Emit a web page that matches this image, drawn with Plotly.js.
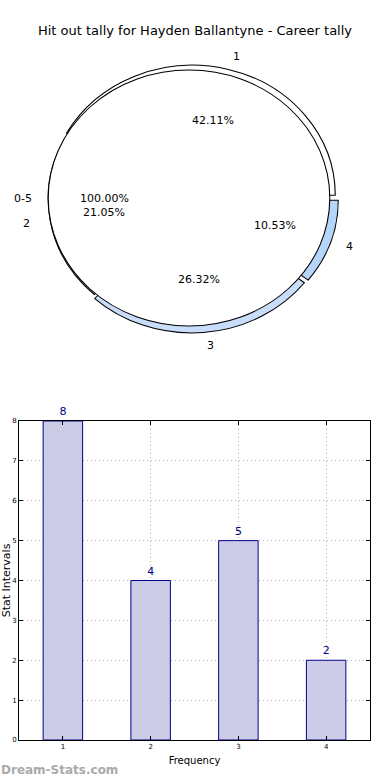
<!DOCTYPE html>
<html>
<head>
<meta charset="utf-8">
<script src="https://cdn.plot.ly/plotly-3.0.1.min.js"></script>
<style>html,body{margin:0;padding:0;background:#fff;}#chart{width:390px;height:780px;}</style>
</head>
<body>
<div id="chart"></div>
<script>
// ---- data ----
var titleText = "Hit out tally for Hayden Ballantyne - Career tally";
var categories = [1, 2, 3, 4];
var tallies = [8, 4, 5, 2];
var pieLabels = ["1", "2", "3", "4"];
var pieColors = ["#ffffff", "#9a9a9a", "#c8ddf9", "#b6d5fb"];
var totalLabel = ["0-5"];
var totalValue = [19];
var yTicks = [0, 1, 2, 3, 4, 5, 6, 7, 8];
var xTitle = "Frequency";
var yTitle = "Stat Intervals";
var watermark = "Dream-Stats.com";

var W = 390, H = 780;
var FONT = "DejaVu Sans, sans-serif";
function px(x){ return x / W; }
function py(y){ return 1 - y / H; }

// pie geometry (pre-stretch), stretched horizontally to an ellipse afterwards
var SX = 1.10, CX = 189;
var whiteR = 128, whiteC = [189, 198];
var sliceR = 130, sliceC = [191, 199], pullAmt = 0.03;
var sliceHalf = sliceR * (1 + pullAmt);

var total = tallies.reduce(function(a, b){ return a + b; }, 0);
// Plotly's counterclockwise pies put the end of slice 1 at `rotation`;
// make slice 1 start at 3 o'clock like the original.
var pieRotation = 90 - 360 * tallies[0] / total;

var data = [
  {
    type: 'pie', labels: pieLabels, values: tallies, sort: false,
    direction: 'counterclockwise', rotation: pieRotation,
    pull: [pullAmt, 0, pullAmt, pullAmt],
    marker: {colors: pieColors, line: {color: '#000', width: 1}},
    textinfo: 'none', hoverinfo: 'skip', showlegend: false,
    domain: {x: [px(sliceC[0] - sliceHalf), px(sliceC[0] + sliceHalf)],
             y: [py(sliceC[1] + sliceHalf), py(sliceC[1] - sliceHalf)]}
  },
  {
    type: 'pie', labels: totalLabel, values: totalValue, sort: false,
    marker: {colors: ['#ffffff'], line: {color: '#000', width: 1}},
    textinfo: 'none', hoverinfo: 'skip', showlegend: false,
    domain: {x: [px(whiteC[0] - whiteR), px(whiteC[0] + whiteR)],
             y: [py(whiteC[1] + whiteR), py(whiteC[1] - whiteR)]}
  },
  {
    type: 'bar', x: categories, y: tallies, width: 0.45,
    marker: {color: '#ccccE6', line: {color: '#00008b', width: 1}},
    text: tallies.map(String), textposition: 'outside', cliponaxis: false,
    textfont: {family: FONT, size: 11, color: '#00008b'},
    xaxis: 'x', yaxis: 'y', showlegend: false, hoverinfo: 'skip'
  }
];

// annotations for pie labels, positioned from slice angles
var annotations = [];
var cum = 0;
var scx = CX + SX * (sliceC[0] - CX), scy = sliceC[1];
var rx = sliceR * SX, ry = sliceR;
for (var i = 0; i < tallies.length; i++) {
  var frac = tallies[i] / total;
  var mid = (cum + frac / 2) * 2 * Math.PI;
  cum += frac;
  var c = Math.cos(mid), s = Math.sin(mid);
  var pct = (frac * 100).toFixed(2) + '%';
  annotations.push({xref: 'paper', yref: 'paper', showarrow: false,
    x: px(scx + 0.62 * rx * c), y: py(scy - 0.62 * ry * s),
    text: pct, font: {family: FONT, size: 11, color: '#000'},
    xanchor: 'center', yanchor: 'middle'});
  annotations.push({xref: 'paper', yref: 'paper', showarrow: false,
    x: px(scx + 1.13 * rx * c), y: py(scy - 1.13 * ry * s),
    text: pieLabels[i], font: {family: FONT, size: 11, color: '#000'},
    xanchor: c >= 0 ? 'left' : 'right', yanchor: 'middle'});
}
var wrx = whiteR * SX;
annotations.push({xref: 'paper', yref: 'paper', showarrow: false,
  x: px(whiteC[0] - 0.6 * wrx), y: py(whiteC[1]),
  text: (100).toFixed(2) + '%', font: {family: FONT, size: 11, color: '#000'},
  xanchor: 'center', yanchor: 'middle'});
annotations.push({xref: 'paper', yref: 'paper', showarrow: false,
  x: px(whiteC[0] - 1.1 * wrx), y: py(whiteC[1]),
  text: totalLabel[0], font: {family: FONT, size: 11, color: '#000'},
  xanchor: 'right', yanchor: 'middle'});
annotations.push({xref: 'paper', yref: 'paper', showarrow: false,
  x: px(-1), y: py(770), text: watermark, xanchor: 'left', yanchor: 'middle',
  font: {family: FONT, size: 12, color: '#aaaaaa', weight: 'bold'}});

var layout = {
  width: W, height: H,
  margin: {l: 0, r: 0, t: 0, b: 0},
  paper_bgcolor: '#fff', plot_bgcolor: '#fff',
  font: {family: FONT, color: '#000'},
  title: {text: titleText, x: 0.5, xanchor: 'center', yref: 'container',
          y: py(30), yanchor: 'middle', font: {family: FONT, size: 13, color: '#000'}},
  xaxis: {domain: [px(19), px(370)], range: [0.5, 4.5], tickvals: categories,
          ticktext: categories.map(String), ticks: 'inside', ticklen: 4,
          tickcolor: '#000', showline: true, linecolor: '#000', linewidth: 1,
          mirror: 'ticks', showgrid: true, gridcolor: '#b0b0b0', griddash: '1px,3px',
          gridwidth: 1, zeroline: false, tickfont: {family: FONT, size: 7},
          title: {text: xTitle, font: {family: FONT, size: 10}, standoff: 6},
          automargin: false, fixedrange: true},
  yaxis: {domain: [py(740), py(421)], range: [0, 8], tickvals: yTicks,
          ticks: 'inside', ticklen: 4, tickcolor: '#000', showline: true,
          linecolor: '#000', linewidth: 1, mirror: 'ticks', showgrid: true,
          gridcolor: '#b0b0b0', griddash: '1px,3px', gridwidth: 1, zeroline: false,
          tickfont: {family: FONT, size: 7},
          title: {text: yTitle, font: {family: FONT, size: 11}, standoff: 2},
          automargin: false, fixedrange: true},
  annotations: annotations
};

Plotly.newPlot('chart', data, layout, {staticPlot: true}).then(function(gd){
  var groups = gd.querySelectorAll('.pielayer .trace');
  groups.forEach(function(g){
    var prev = g.getAttribute('transform') || '';
    g.setAttribute('transform', 'translate(' + CX + ',0) scale(' + SX + ',1) translate(' + (-CX) + ',0) ' + prev);
  });
});
</script>
</body>
</html>
